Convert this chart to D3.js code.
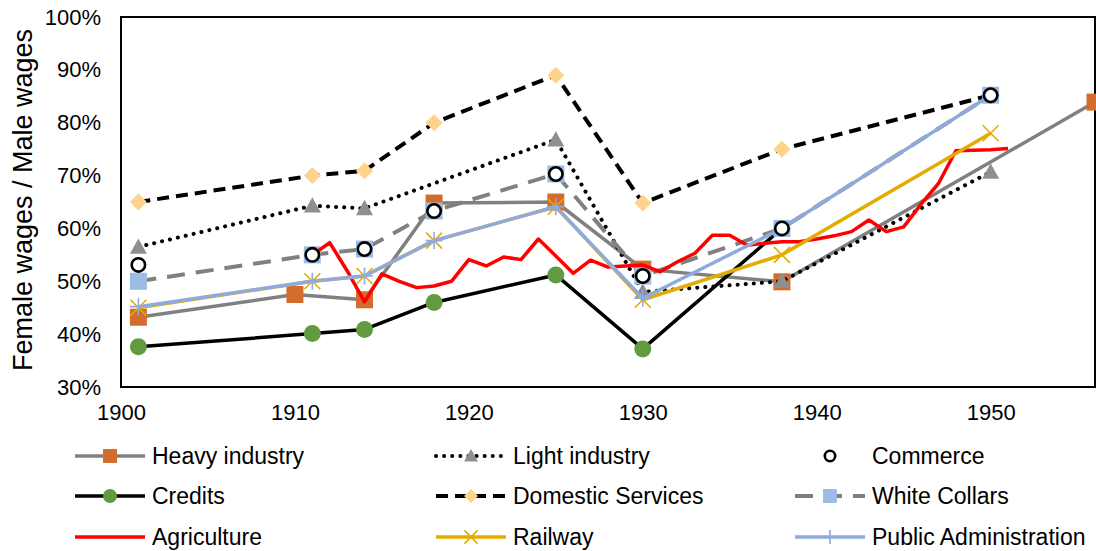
<!DOCTYPE html>
<html>
<head>
<meta charset="utf-8">
<script src="https://cdn.jsdelivr.net/npm/d3@7"></script>
<style>
  body { margin: 0; background: #fff; }
  svg { display: block; font-family: "Liberation Sans", Arial, sans-serif; }
</style>
</head>
<body>
<svg id="chart" width="1096" height="551"></svg>
<script>
// years + values (female / male wage ratio)
var heavyYears = [1901, 1910, 1914, 1918, 1925, 1930, 1938, 1956];
var heavyVals = [0.432, 0.475, 0.465, 0.648, 0.650, 0.523, 0.499, 0.839];

var lightYears = [1901, 1911, 1914, 1925, 1930, 1938, 1950];
var lightVals = [0.565, 0.643, 0.638, 0.768, 0.480, 0.500, 0.707];

var commerceYears = [1901, 1911, 1914, 1918, 1925, 1930, 1938, 1950];
var commerceVals = [0.531, 0.550, 0.561, 0.633, 0.703, 0.510, 0.600, 0.852];

var creditsYears = [1901, 1911, 1914, 1918, 1925, 1930, 1938];
var creditsVals = [0.376, 0.401, 0.409, 0.460, 0.512, 0.372, 0.600];

var domesticYears = [1901, 1911, 1914, 1918, 1925, 1930, 1938, 1950];
var domesticVals = [0.650, 0.700, 0.709, 0.800, 0.890, 0.648, 0.750, 0.852];

var whiteYears = [1901, 1911, 1914, 1918, 1925, 1930, 1938, 1950];
var whiteVals = [0.500, 0.550, 0.561, 0.633, 0.703, 0.510, 0.600, 0.852];

var agriYears = [1911, 1912, 1913, 1914, 1915, 1916, 1917, 1918, 1919, 1920,
    1921, 1922, 1923, 1924, 1925, 1926, 1927, 1928, 1929, 1930,
    1931, 1932, 1933, 1934, 1935, 1936, 1937, 1938, 1939, 1940,
    1941, 1942, 1943, 1944, 1945, 1946, 1947, 1948, 1949, 1950, 1951];
var agriVals = [0.550, 0.573, 0.520, 0.461, 0.514, 0.500, 0.488, 0.491, 0.500, 0.541,
    0.529, 0.546, 0.541, 0.580, 0.548, 0.515, 0.540, 0.527, 0.529, 0.531,
    0.518, 0.537, 0.553, 0.587, 0.587, 0.568, 0.572, 0.575, 0.575, 0.580,
    0.586, 0.594, 0.616, 0.594, 0.603, 0.646, 0.685, 0.747, 0.748, 0.749, 0.751];

var railYears = [1901, 1911, 1914, 1918, 1925, 1930, 1938, 1950];
var railVals = [0.450, 0.500, 0.510, 0.577, 0.641, 0.465, 0.550, 0.780];

var pubYears = [1901, 1911, 1914, 1918, 1925, 1930, 1938, 1950];
var pubVals = [0.452, 0.500, 0.510, 0.577, 0.641, 0.468, 0.600, 0.852];

var xTicks = [1900, 1910, 1920, 1930, 1940, 1950];
var yTicks = [0.3, 0.4, 0.5, 0.6, 0.7, 0.8, 0.9, 1.0];

function zip(years, vals) {
    return years.map(function(y, i) { return { year: y, v: vals[i] }; });
}

// draw order: commerce sits on top of everything (secondary axis in the original)
var series = [
    { name: 'Heavy industry', pts: zip(heavyYears, heavyVals), stroke: '#808080', width: 3.5, marker: 'square', fill: '#d36c2c', size: 17 },
    { name: 'Light industry', pts: zip(lightYears, lightVals), stroke: '#000', width: 4, dash: '0.1 8', cap: 'round', marker: 'triangle', fill: '#8f8f8f', size: 17 },
    { name: 'Credits', pts: zip(creditsYears, creditsVals), stroke: '#000', width: 3.5, marker: 'circle', fill: '#629a3f', size: 17, skipLast: true },
    { name: 'Domestic Services', pts: zip(domesticYears, domesticVals), stroke: '#000', width: 4, dash: '12 7', marker: 'diamond', fill: '#ffd38c', size: 17 },
    { name: 'White Collars', pts: zip(whiteYears, whiteVals), stroke: '#808080', width: 4, dash: '18 11', marker: 'square', fill: '#9bbde3', size: 17 },
    { name: 'Agriculture', pts: zip(agriYears, agriVals), stroke: '#ff0000', width: 3.5 },
    { name: 'Railway', pts: zip(railYears, railVals), stroke: '#e3ac00', width: 3.5, marker: 'x', fill: '#e3ac00', size: 16 },
    { name: 'Public Administration', pts: zip(pubYears, pubVals), stroke: '#8faadc', width: 3.5, marker: 'plus', fill: '#8faadc', size: 17 },
    { name: 'Commerce', pts: zip(commerceYears, commerceVals), stroke: 'none', marker: 'ring', fill: '#fff', size: 16 }
];

var svg = d3.select('#chart');
var plot = { left: 121, right: 1095, top: 17, bottom: 387 };

var x = d3.scaleLinear().domain([1900, 1956]).range([plot.left, plot.right]);
var y = d3.scaleLinear().domain([0.3, 1.0]).range([plot.bottom, plot.top]);

// frame
svg.append('rect')
    .attr('x', plot.left).attr('y', plot.top)
    .attr('width', plot.right - plot.left).attr('height', plot.bottom - plot.top)
    .attr('fill', 'none').attr('stroke', '#000').attr('stroke-width', 2);

// axes (labels only)
var xAxis = svg.append('g')
    .attr('transform', 'translate(0,' + plot.bottom + ')')
    .call(d3.axisBottom(x).tickValues(xTicks).tickFormat(d3.format('d')).tickSize(0).tickPadding(17));
var yAxis = svg.append('g')
    .attr('transform', 'translate(' + plot.left + ',0)')
    .call(d3.axisLeft(y).tickValues(yTicks).tickFormat(d3.format('.0%')).tickSize(0).tickPadding(20));
[xAxis, yAxis].forEach(function(g) {
    g.select('.domain').remove();
    g.selectAll('text').attr('font-size', 22).attr('fill', '#000')
        .attr('font-family', '"Liberation Sans", Arial, sans-serif');
});

svg.append('text')
    .attr('transform', 'translate(32,' + ((plot.top + plot.bottom) / 2 - 2) + ') rotate(-90)')
    .attr('text-anchor', 'middle')
    .attr('font-size', 27)
    .text('Female wages / Male wages');

function drawMarker(g, type, cx, cy, s, fill) {
    var h = s / 2;
    if (type == 'square') {
        g.append('rect').attr('x', cx - h).attr('y', cy - h).attr('width', s).attr('height', s).attr('fill', fill);
    } else if (type == 'circle') {
        g.append('circle').attr('cx', cx).attr('cy', cy).attr('r', h).attr('fill', fill);
    } else if (type == 'ring') {
        g.append('circle').attr('cx', cx).attr('cy', cy).attr('r', h - 1.3)
            .attr('fill', fill).attr('stroke', '#000').attr('stroke-width', 2.6);
    } else if (type == 'triangle') {
        g.append('path').attr('d', 'M' + cx + ',' + (cy - h) + 'L' + (cx + h) + ',' + (cy + h * 0.8) + 'L' + (cx - h) + ',' + (cy + h * 0.8) + 'Z')
            .attr('fill', fill);
    } else if (type == 'diamond') {
        g.append('path').attr('d', 'M' + cx + ',' + (cy - h) + 'L' + (cx + h) + ',' + cy + 'L' + cx + ',' + (cy + h) + 'L' + (cx - h) + ',' + cy + 'Z')
            .attr('fill', fill);
    } else if (type == 'x') {
        g.append('path').attr('d', 'M' + (cx - h) + ',' + (cy - h) + 'L' + (cx + h) + ',' + (cy + h) + 'M' + (cx - h) + ',' + (cy + h) + 'L' + (cx + h) + ',' + (cy - h))
            .attr('stroke', fill).attr('stroke-width', 1.6).attr('fill', 'none');
    } else if (type == 'plus') {
        g.append('path').attr('d', 'M' + (cx - h) + ',' + cy + 'L' + (cx + h) + ',' + cy + 'M' + cx + ',' + (cy - h) + 'L' + cx + ',' + (cy + h))
            .attr('stroke', fill).attr('stroke-width', 1.6).attr('fill', 'none');
    }
}

var line = d3.line().x(function(d) { return x(d.year); }).y(function(d) { return y(d.v); });

series.forEach(function(s) {
    var g = svg.append('g').attr('class', 'series');
    if (s.stroke != 'none') {
        g.append('path').datum(s.pts)
            .attr('d', line)
            .attr('fill', 'none')
            .attr('stroke', s.stroke)
            .attr('stroke-width', s.width)
            .attr('stroke-linejoin', 'round')
            .attr('stroke-linecap', s.cap || 'butt')
            .attr('stroke-dasharray', s.dash || null);
    }
    if (s.marker) {
        s.pts.forEach(function(d, i) {
            if (s.skipLast && i == s.pts.length - 1) return;
            drawMarker(g, s.marker, x(d.year), y(d.v), s.size, s.fill);
        });
    }
});

// legend, 3 columns x 3 rows in the original order
var legendOrder = ['Heavy industry', 'Light industry', 'Commerce', 'Credits', 'Domestic Services',
    'White Collars', 'Agriculture', 'Railway', 'Public Administration'];
var colX = [75, 436, 795];
var rowY = [456, 496, 537];
var legend = svg.append('g');
legendOrder.forEach(function(name, i) {
    var s = series.find(function(d) { return d.name == name; });
    var lx = colX[i % 3], ly = rowY[Math.floor(i / 3)];
    var g = legend.append('g');
    if (s.stroke != 'none') {
        g.append('line').attr('x1', lx).attr('x2', lx + 70).attr('y1', ly).attr('y2', ly)
            .attr('stroke', s.stroke).attr('stroke-width', s.width)
            .attr('stroke-linecap', s.cap || 'butt')
            .attr('stroke-dasharray', s.dash || null);
    }
    if (s.marker) {
        var ms = s.marker == 'ring' ? 13 : s.size * 0.82;
        drawMarker(g, s.marker, lx + 35, ly, ms, s.fill);
    }
    g.append('text').attr('x', lx + 77).attr('y', ly).attr('dy', '0.35em')
        .attr('font-size', 23).text(name);
});
</script>
</body>
</html>
